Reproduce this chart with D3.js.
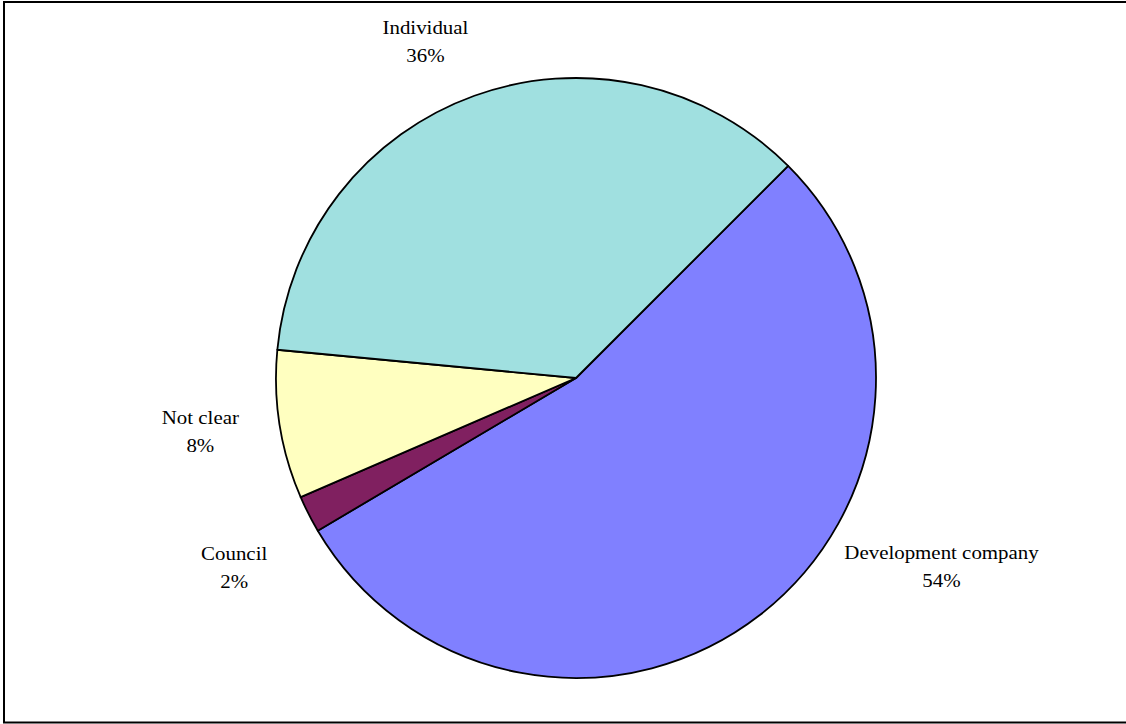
<!DOCTYPE html>
<html>
<head>
<meta charset="utf-8">
<script src="https://cdn.jsdelivr.net/npm/d3@7"></script>
<style>
    body { margin: 0; background: #fff; }
    svg { display: block; }
    .label { font-family: "Liberation Serif", "Times New Roman", serif; font-size: 19px; fill: #000; }
</style>
</head>
<body>
<div id="chart"></div>
<script>
// data
const categories = ["Development company", "Council", "Not clear", "Individual"];
const values = [54, 2, 8, 36];
const colors = ["#8080FF", "#802060", "#FFFFC0", "#A0E0E0"];

const width = 1126, height = 724;
const cx = 576, cy = 378, radius = 300;

const svg = d3.select("#chart").append("svg")
    .attr("width", width)
    .attr("height", height);

// outer frame (runs off the right edge like the original)
svg.append("rect")
    .attr("x", 4)
    .attr("y", 2)
    .attr("width", 1140)
    .attr("height", 720.5)
    .attr("fill", "none")
    .attr("stroke", "#000")
    .attr("stroke-width", 2);

let g = svg.append("g")
    .attr("transform", `translate(${cx},${cy})`);

let pie = d3.pie()
    .sort(null)
    .value(d => d.value)
    .startAngle(Math.PI / 4)
    .endAngle(Math.PI / 4 + 2 * Math.PI);

let data = categories.map((c, i) => ({name: c, value: values[i], color: colors[i]}));
let arcs = pie(data);

let arc = d3.arc().innerRadius(0).outerRadius(radius);
let labelArc = d3.arc().innerRadius(350).outerRadius(350);

g.selectAll(".slice")
    .data(arcs)
    .enter()
    .append("path")
    .attr("class", "slice")
    .attr("d", arc)
    .attr("fill", d => d.data.color)
    .attr("stroke", "#000")
    .attr("stroke-width", 1.8)
    .attr("stroke-linejoin", "round");

// Excel moved some labels around, so nudge them from the label ring
const nudge = {
    "Development company": [151, -96],
    "Council": [-30, 23],
    "Not clear": [-30, -9],
    "Individual": [-32, -15]
};

let total = d3.sum(values);

let labels = g.selectAll(".lbl")
    .data(arcs)
    .enter()
    .append("g")
    .attr("class", "lbl")
    .attr("transform", d => {
        let c = labelArc.centroid(d);
        let n = nudge[d.data.name];
        return `translate(${c[0] + n[0]},${c[1] + n[1]}) scale(1.1,1)`;
    });

labels.append("text")
    .attr("class", "label")
    .attr("text-anchor", "middle")
    .attr("y", 0)
    .text(d => d.data.name);

labels.append("text")
    .attr("class", "label")
    .attr("text-anchor", "middle")
    .attr("y", 28)
    .text(d => Math.round(d.data.value / total * 100) + "%");
</script>
</body>
</html>
